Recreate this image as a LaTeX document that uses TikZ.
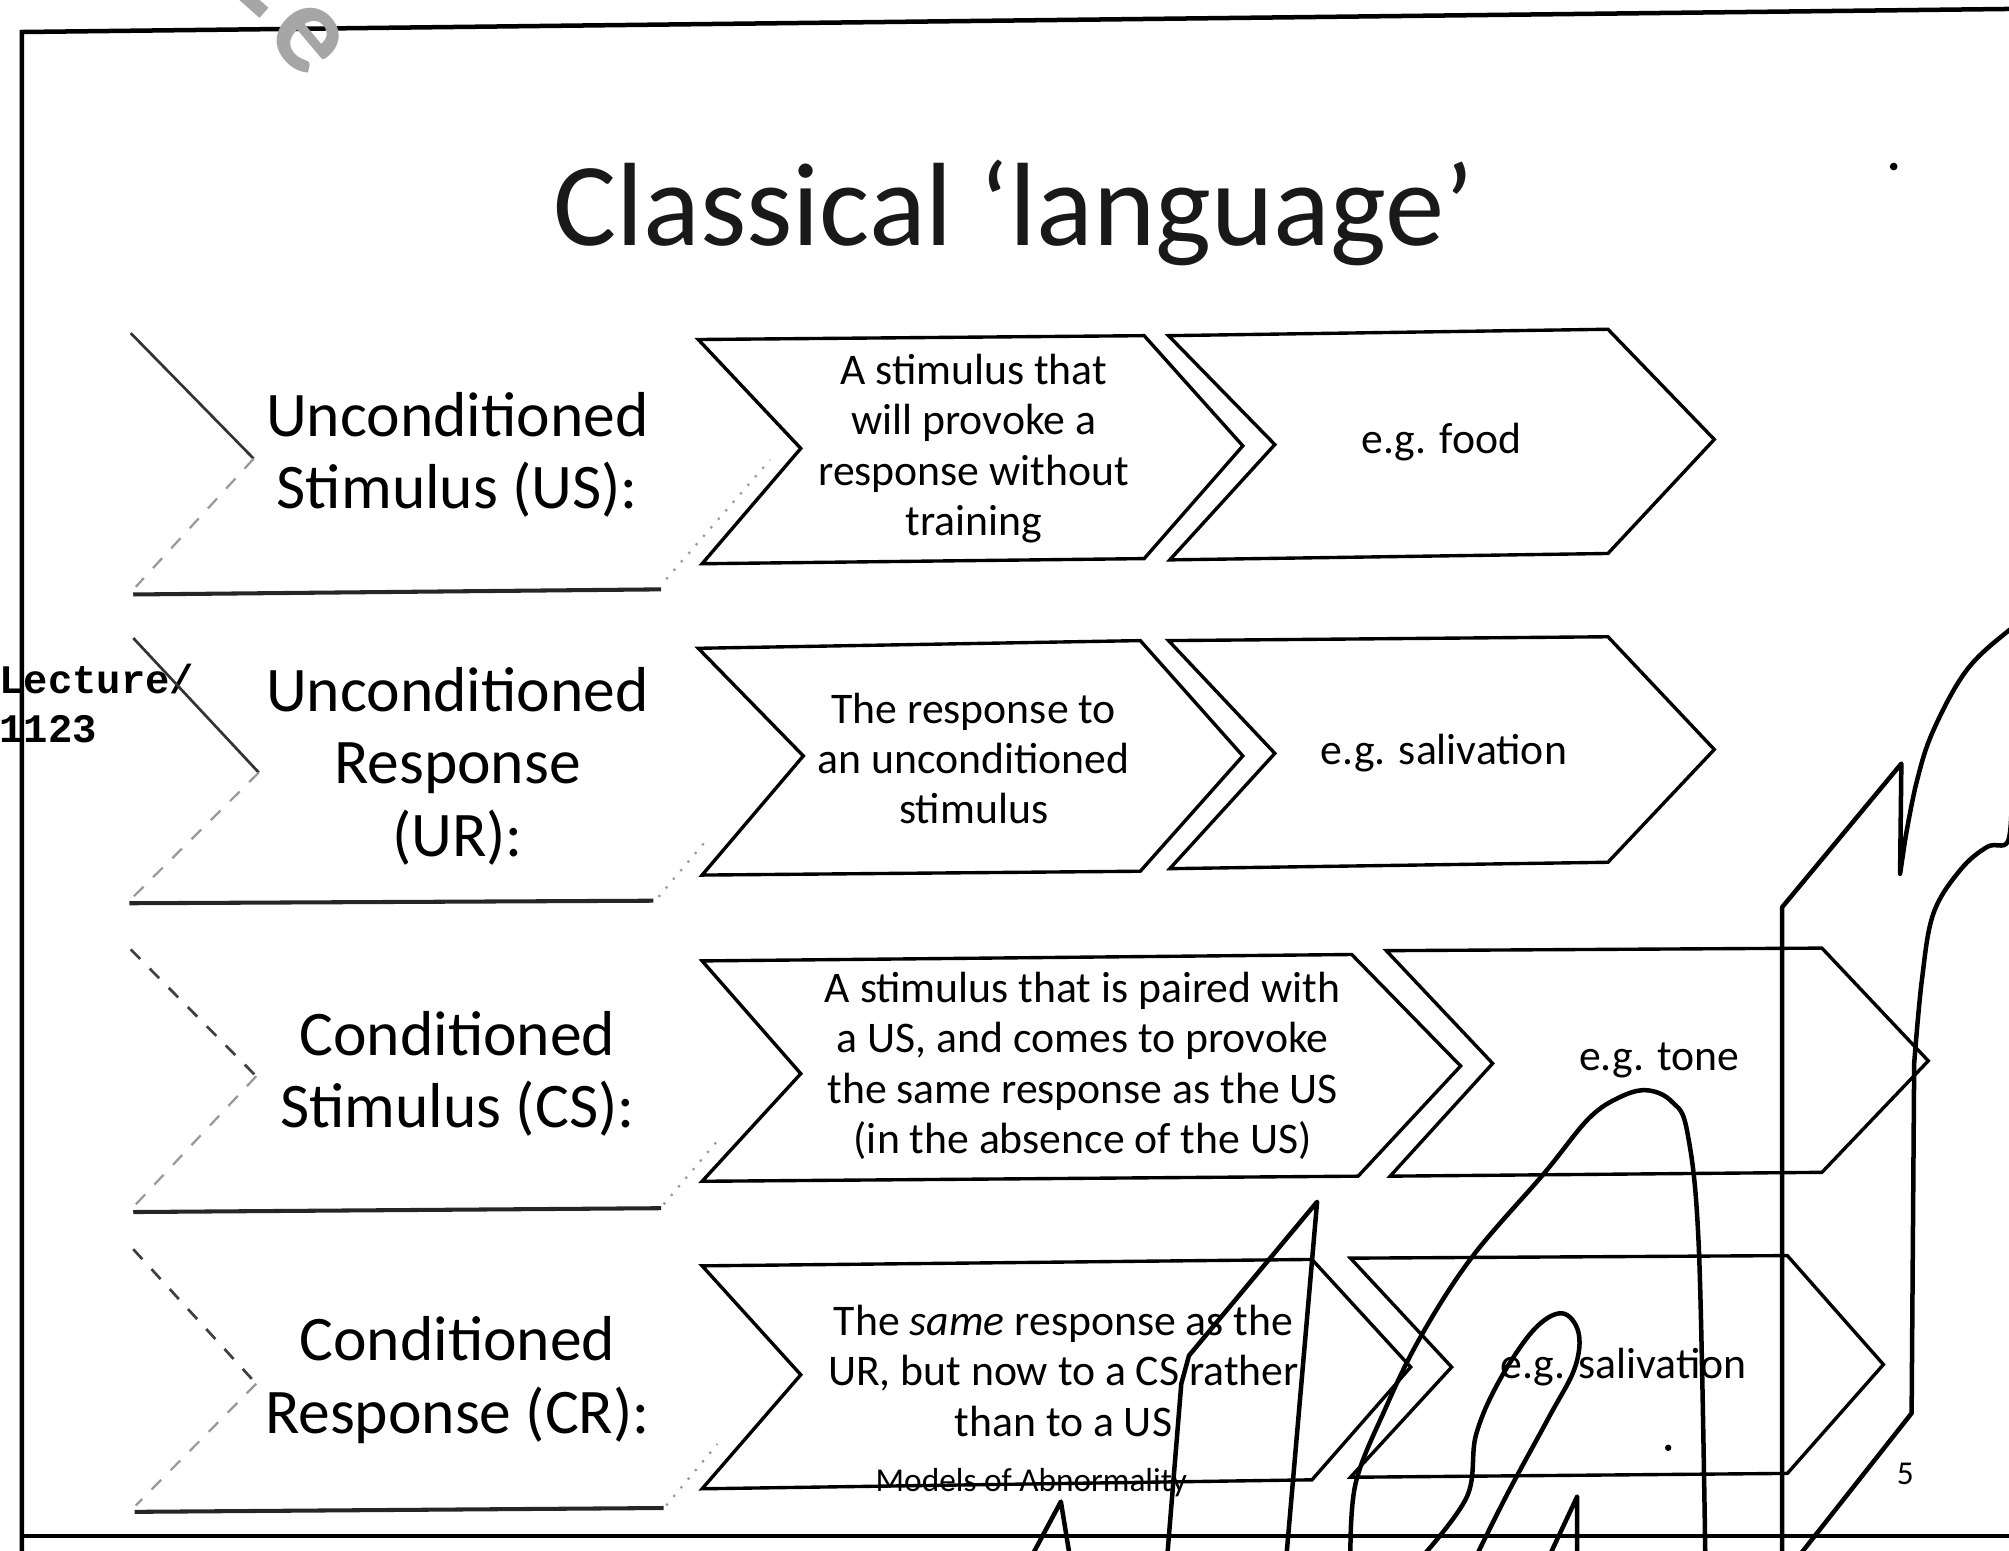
\documentclass[tikz,border=0pt]{standalone}
\usepackage{fontspec}
\setmainfont{Carlito}
\newfontfamily\lecfont{Liberation Mono}

\begin{document}
\begin{tikzpicture}[x=0.01cm, y=-0.01cm,
    chev/.style={line width=0.75pt, line join=miter},
    faint/.style={black!40, line width=0.5pt, dashed},
    scrib/.style={line width=1pt, line join=round, line cap=round},
    lab/.style={font=\fontsize{14.1}{16.1}\selectfont, align=center},
    txt/.style={font=\fontsize{9.7}{11.2}\selectfont, align=center}]

    \useasboundingbox (0,0) rectangle (1568,1210);
    \clip (0,0) rectangle (1568,1210);

    % 1. Slide frame (scanned, slightly tilted)
    \draw[line width=1pt] (17,1215) -- (17,25) -- (1568,7);
    \draw[line width=1pt] (17,1199) -- (1568,1199);

    % 2. Watermark fragment
    \draw[black!35, line width=3pt] (188,-6) -- (206,10);
    \node[black!35, font=\bfseries\fontsize{28}{28}\selectfont, rotate=-50, inner sep=0] (wm) at (240,30) {e};

    % 3. Title and side note
    \node[black!90, font=\fontsize{26.3}{30}\selectfont, anchor=base] (title) at (791,192) {Classical ‘language’};
    \node[font=\lecfont\bfseries\fontsize{9}{10.8}\selectfont, align=left, anchor=north west, inner sep=0] (lec) at (-1,518) {Lecture/\\1123};

    % 4. Label chevrons (washed out in the copy)
    \draw[line width=0.6pt, black!80] (102,260) -- (198,358);
    \draw[faint] (198,358) -- (106,458);
    \draw[line width=0.9pt, black!85] (104,464) -- (516,460);
    \draw[faint, dotted] (520,452) -- (601,359);

    \draw[line width=0.6pt, black!80] (104,498) -- (202,603);
    \draw[faint] (202,603) -- (104,700);
    \draw[line width=0.9pt, black!85] (101,705) -- (510,703);
    \draw[faint, dotted] (514,700) -- (552,655);

    \draw[line width=0.6pt, black!75, dashed] (102,741) -- (200,840);
    \draw[faint] (200,840) -- (106,940);
    \draw[line width=0.9pt, black!85] (104,946) -- (516,943);
    \draw[faint, dotted] (518,940) -- (562,888);

    \draw[line width=0.6pt, black!75, dashed] (104,975) -- (200,1080);
    \draw[faint] (200,1080) -- (106,1175);
    \draw[line width=0.9pt, black!85] (105,1180) -- (518,1177);
    \draw[faint, dotted] (520,1175) -- (560,1127);

    \node[lab] (lab1) at (357,355) {Unconditioned\\Stimulus (US):};
    \node[lab] (lab2) at (357,598) {Unconditioned\\Response\\(UR):};
    \node[lab] (lab3) at (357,838) {Conditioned\\Stimulus (CS):};
    \node[lab] (lab4) at (357,1077) {Conditioned\\Response (CR):};

    % 5. Definition chevrons
    \draw[chev] (545,265) -- (893,262) -- (970,348) -- (893,436) -- (548,440) -- (625,350) -- cycle;
    \draw[chev] (545,506) -- (890,500) -- (970,590) -- (890,680) -- (548,683) -- (627,590) -- cycle;
    \draw[chev] (548,750) -- (1055,745) -- (1140,832) -- (1060,918) -- (548,922) -- (625,838) -- cycle;
    \draw[chev] (548,988) -- (1024,983) -- (1101,1067) -- (1024,1155) -- (548,1162) -- (625,1073) -- cycle;

    \node[txt] (def1) at (760,350) {A stimulus that\\will provoke a\\response without\\training};
    \node[txt] (def2) at (760,592) {The response to\\an unconditioned\\stimulus};
    \node[txt] (def3) at (845,832) {A stimulus that is paired with\\a US, and comes to provoke\\the same response as the US\\(in the absence of the US)};
    \node[txt] (def4) at (830,1070) {The \textit{same} response as the\\UR, but now to a CS rather\\than to a US};

    % 6. Example chevrons
    \draw[chev] (912,262) -- (1255,257) -- (1338,343) -- (1255,432) -- (913,437) -- (995,347) -- cycle;
    \draw[chev] (912,500) -- (1255,497) -- (1338,585) -- (1255,673) -- (913,678) -- (995,588) -- cycle;
    \draw[chev] (1082,742) -- (1422,740) -- (1505,828) -- (1422,915) -- (1085,918) -- (1165,830) -- cycle;
    \draw[chev] (1054,982) -- (1395,980) -- (1470,1065) -- (1395,1150) -- (1054,1153) -- (1133,1067) -- cycle;

    \node[txt] (ex1) at (1125,345) {e.g. food};
    \node[txt] (ex2) at (1127,588) {e.g. salivation};
    \node[txt] (ex3) at (1295,828) {e.g. tone};
    \node[txt] (ex4) at (1267,1067) {e.g. salivation};

    % 7. Footer
    \node[font=\fontsize{7.4}{8}\selectfont] (foot) at (805,1157) {Models of Abnormality};
    \node[font=\fontsize{7.4}{8}\selectfont] (pnum) at (1487,1150) {5};

    % 8. Pen scribbles over the copy
    \draw[scrib] plot[smooth, tension=0.6] coordinates {(1054,1215) (1058,1158) (1081,1100) (1109,1043) (1149,981) (1205,916) (1240,873) (1265,856) (1286,851) (1305,860) (1317,884) (1326,976) (1331,1215)};
    \draw[scrib] plot[smooth, tension=0.6] coordinates {(1110,1215) (1145,1168) (1152,1120) (1170,1078) (1197,1038) (1219,1025) (1232,1040) (1229,1068) (1209,1106) (1177,1165) (1152,1215)};
    \draw[scrib] (1209,1215) -- (1231,1168) -- (1231,1215);
    \draw[scrib] (911,1215) -- (922,1080) -- (928,1058) -- (1028,938) -- (1004,1215);
    \draw[scrib] (805,1215) -- (828,1172) -- (835,1215);
    \draw[scrib] (1391,1215) -- (1391,708) -- (1484,596) -- (1483,682) -- (1487,655);
    \draw[scrib] plot[smooth, tension=0.6] coordinates {(1487,655) (1496,610) (1509,570) (1535,523) (1568,492) (1590,478)};
    \draw[scrib] plot[smooth, tension=0.6] coordinates {(1570,625) (1567,657) (1551,661) (1530,679) (1509,713) (1500,765) (1494,830)} -- (1492,1103) -- (1406,1212);

    % 9. Specks
    \fill (1478,130) circle (3);
    \fill (1302,1130) circle (2.5);

\end{tikzpicture}
\end{document}
